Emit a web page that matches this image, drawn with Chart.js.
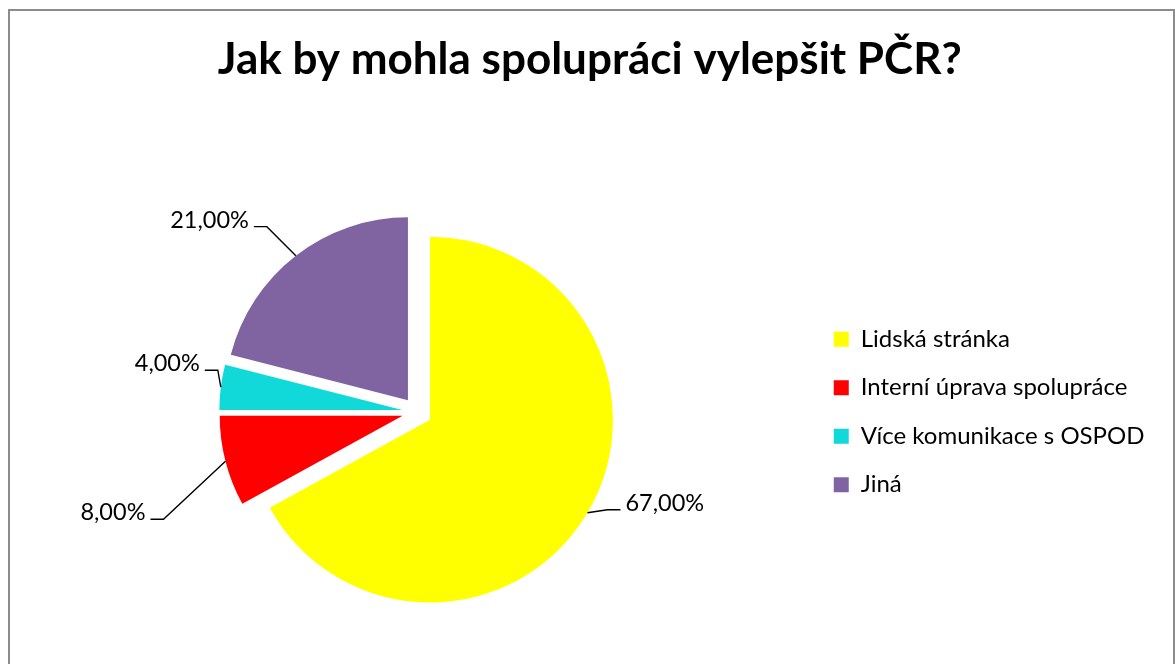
<!DOCTYPE html>
<html>
<head>
<meta charset="utf-8">
<script src="https://cdn.jsdelivr.net/npm/chart.js@4/dist/chart.umd.min.js"></script>
<style>
  html, body { margin: 0; padding: 0; background: #fff; overflow: hidden; }
  #frame { position: absolute; left: 8px; top: 9px; width: 1163px; height: 700px; border: 2px solid #8c8c8c; }
  #chart { position: absolute; left: 0; top: 0; }
</style>
</head>
<body>
<div id="frame"></div>
<canvas id="chart" width="1175" height="664"></canvas>
<script>
// data
const categories = ['Lidská stránka', 'Interní úprava spolupráce', 'Více komunikace s OSPOD', 'Jiná'];
const shares = [67, 8, 4, 21];
const sliceColors = ['#ffff00', '#ff0000', '#12d9d9', '#8064a2'];

const fmtPct = (v) => v.toFixed(2).replace('.', ',') + '%';

// pulls every slice out along its middle angle, then lets the arc draw itself
const explodePlugin = {
    id: 'explode',
    beforeDatasetDraw(chart, args, opts) {
        const ctx = chart.ctx;
        args.meta.data.forEach((arc) => {
            const {startAngle, endAngle} = arc.getProps(['startAngle', 'endAngle'], true);
            const mid = (startAngle + endAngle) / 2;
            ctx.save();
            ctx.translate(Math.cos(mid) * opts.distance, Math.sin(mid) * opts.distance);
            arc.draw(ctx, chart.chartArea);
            ctx.restore();
        });
        return false;
    }
};

// excel style data labels with leader lines
const leaderPlugin = {
    id: 'leaders',
    afterDatasetsDraw(chart, args, opts) {
        const ctx = chart.ctx;
        const meta = chart.getDatasetMeta(0);
        const values = chart.data.datasets[0].data;
        ctx.save();
        ctx.strokeStyle = '#000';
        ctx.lineWidth = 1.4;
        ctx.fillStyle = '#000';
        ctx.font = opts.font;
        ctx.textBaseline = 'alphabetic';
        meta.data.forEach((arc, i) => {
            const p = arc.getProps(['x', 'y', 'startAngle', 'endAngle', 'outerRadius'], true);
            const mid = (p.startAngle + p.endAngle) / 2;
            const r = p.outerRadius + opts.explode;
            const ex = p.x + Math.cos(mid) * r;
            const ey = p.y + Math.sin(mid) * r;
            const bx = ex + opts.elbows[i][0];
            const by = ey + opts.elbows[i][1];
            const right = Math.cos(mid) > 0;
            const sx = bx + (right ? opts.stub : -opts.stub);
            ctx.beginPath();
            ctx.moveTo(ex, ey);
            ctx.lineTo(bx, by);
            ctx.lineTo(sx, by);
            ctx.stroke();
            ctx.textAlign = right ? 'left' : 'right';
            ctx.fillText(fmtPct(values[i]), sx + (right ? opts.gap : -opts.gap), by + 1);
        });
        ctx.restore();
    }
};

const chartobj = new Chart(document.querySelector('#chart').getContext('2d'), {
    type: 'pie',
    data: {
        labels: categories,
        datasets: [{
            data: shares,
            backgroundColor: sliceColors,
            borderWidth: 0
        }]
    },
    plugins: [explodePlugin, leaderPlugin],
    options: {
        responsive: false,
        animation: false,
        radius: '96%',
        layout: {
            padding: {top: 10, bottom: 61.5, left: 25, right: 20.5}
        },
        plugins: {
            title: {
                display: true,
                text: 'Jak by mohla spolupráci vylepšit PČR?',
                color: '#000',
                font: {family: 'Lato', size: 44, weight: 'bold', lineHeight: 1.2},
                padding: {top: 23.5, bottom: 135.2}
            },
            legend: {
                position: 'right',
                fullSize: false,
                labels: {
                    color: '#000',
                    font: {family: 'Lato', size: 24},
                    boxWidth: 15,
                    boxHeight: 15,
                    padding: 24.5
                }
            },
            tooltip: {enabled: false},
            explode: {distance: 15},
            leaders: {
                explode: 15,
                font: '23.5px Lato',
                stub: 13,
                gap: 5,
                elbows: [[20, -3], [-62, 58], [-3, -17], [-29, -29]]
            }
        }
    }
});
</script>
</body>
</html>
